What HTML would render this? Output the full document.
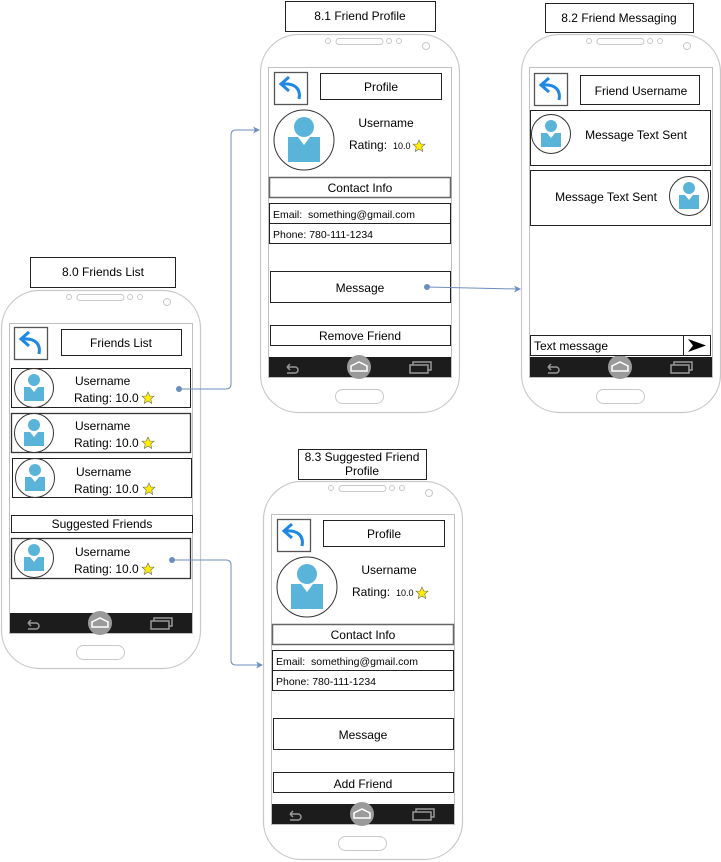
<!DOCTYPE html>
<html><head><meta charset="utf-8"><style>
html,body{margin:0;padding:0;background:#fff;}
svg{display:block;font-family:"Liberation Sans",Arial,sans-serif;}
</style></head><body>
<svg width="721" height="862" viewBox="0 0 721 862" xmlns="http://www.w3.org/2000/svg">
<defs>
<g id="phone">
  <rect x="0.5" y="0.5" width="199" height="378" rx="38" fill="#fff" stroke="#c8c8c8" stroke-width="1.2"/>
  <circle cx="68" cy="7" r="2.5" fill="none" stroke="#c8c8c8"/>
  <rect x="76" y="4.5" width="47" height="6" rx="3" fill="none" stroke="#c8c8c8"/>
  <circle cx="129" cy="7" r="2.5" fill="none" stroke="#c8c8c8"/>
  <circle cx="139" cy="7" r="2.5" fill="none" stroke="#c8c8c8"/>
  <circle cx="166" cy="12" r="3.5" fill="none" stroke="#c8c8c8"/>
  <rect x="8.5" y="33.5" width="183" height="310" fill="#fff" stroke="#c0c0c0"/>
  <rect x="9" y="323" width="182" height="20" fill="#1c1c1c"/>
  <path d="M27 333 h8 a3 3 0 0 1 0 6 h-8 M27 333 l3 -3 M27 333 l3 3" fill="none" stroke="#999" stroke-width="1.5"/>
  <circle cx="99" cy="333" r="12" fill="#9a9a9a"/>
  <path d="M91 337 v-5 l8 -4 l8 4 v5 z" fill="none" stroke="#fff" stroke-width="1.5"/>
  <rect x="150" y="331" width="18" height="8" fill="none" stroke="#999" stroke-width="1.5"/>
  <path d="M153 331 v-3 h18 v8 h-3" fill="none" stroke="#999" stroke-width="1.5"/>
  <rect x="75.5" y="355.5" width="48" height="14" rx="7" fill="#fff" stroke="#c8c8c8"/>
</g>
<g id="av">
  <circle cx="0" cy="0" r="19.5" fill="#fff" stroke="#333"/>
  <circle cx="0" cy="-8" r="6" fill="#5ab4da"/>
  <polygon points="-10,-1 -4,-1 0,4 4,-1 10,-1 10,13 -10,13" fill="#5ab4da"/>
</g>
<g id="avb">
  <circle cx="0" cy="0" r="30" fill="#fff" stroke="#333"/>
  <circle cx="0" cy="-13" r="10" fill="#5ab4da"/>
  <polygon points="-16,-3 -6,-3 0,5 6,-3 16,-3 16,22 -16,22" fill="#5ab4da"/>
</g>
<g id="back">
  <rect x="0.5" y="0.5" width="33" height="32" fill="#fff" stroke="#555" stroke-width="1.3"/>
  <path d="M25 27 C27 17 21 11 9 12" fill="none" stroke="#1e88e5" stroke-width="3"/>
  <path d="M15 5 L7 12 L15 19" fill="none" stroke="#1e88e5" stroke-width="3"/>
</g>
<polygon id="star" points="0,-6 1.8,-2 6,-1.8 2.8,1 3.7,5.5 0,3 -3.7,5.5 -2.8,1 -6,-1.8 -1.8,-2" fill="#ffee00" stroke="#666" stroke-width="0.6"/>
<g id="prof">
  <use href="#back" x="274" y="72"/>
  <rect x="320.5" y="73.5" width="121" height="26" fill="#fff" stroke="#222"/>
  <text x="381" y="91" font-size="12" text-anchor="middle">Profile</text>
  <use href="#avb" x="304" y="140"/>
  <text x="386" y="127" font-size="12" text-anchor="middle">Username</text>
  <text x="349" y="149" font-size="12">Rating:</text>
  <text x="393" y="149" font-size="9">10.0</text>
  <use href="#star" x="419" y="146"/>
  <rect x="269.5" y="177.5" width="181" height="20" fill="#fff" stroke="#666" stroke-width="1.5"/>
  <text x="360" y="192" font-size="12" text-anchor="middle">Contact Info</text>
  <rect x="269.5" y="203.5" width="181" height="20" fill="#fff" stroke="#222"/>
  <text x="273" y="218" font-size="10.5">Email:&#160; something@gmail.com</text>
  <rect x="269.5" y="223.5" width="181" height="20" fill="#fff" stroke="#222"/>
  <text x="273" y="238" font-size="10.5">Phone: 780-111-1234</text>
  <rect x="270.5" y="271.5" width="180" height="31" fill="#fff" stroke="#222"/>
  <text x="360" y="292" font-size="12" text-anchor="middle">Message</text>
  <rect x="270.5" y="325.5" width="180" height="20" fill="#fff" stroke="#222"/>
</g>
</defs>

<rect x="30.5" y="257.5" width="145" height="30" fill="#fff" stroke="#222"/>
<text x="103" y="276" font-size="12" text-anchor="middle">8.0 Friends List</text>
<rect x="285.5" y="1.5" width="150" height="30" fill="#fff" stroke="#222"/>
<text x="360" y="20" font-size="12" text-anchor="middle">8.1 Friend Profile</text>
<rect x="545.5" y="3.5" width="148" height="29" fill="#fff" stroke="#222"/>
<text x="619" y="22" font-size="12" text-anchor="middle">8.2 Friend Messaging</text>
<rect x="298.5" y="449.5" width="128" height="30" fill="#fff" stroke="#222"/>
<text x="362" y="461" font-size="12" text-anchor="middle">8.3 Suggested Friend</text>
<text x="362" y="475" font-size="12" text-anchor="middle">Profile</text>

<use href="#phone" x="1" y="290"/>
<use href="#back" x="14" y="327"/>
<rect x="61.5" y="329.5" width="120" height="26" fill="#fff" stroke="#222"/>
<text x="121" y="347" font-size="12" text-anchor="middle">Friends List</text>
<g font-size="12">
<rect x="11.5" y="368.5" width="179" height="39" fill="#fff" stroke="#222"/>
<use href="#av" x="34" y="388"/>
<text x="75" y="385">Username</text><text x="74" y="402">Rating: 10.0</text><use href="#star" x="148" y="398"/>
<rect x="11.5" y="413.5" width="179" height="39" fill="#fff" stroke="#333" stroke-width="1.3"/>
<use href="#av" x="34" y="433"/>
<text x="75" y="430">Username</text><text x="74" y="447">Rating: 10.0</text><use href="#star" x="148" y="443"/>
<rect x="12.5" y="458.5" width="179" height="39" fill="#fff" stroke="#222"/>
<use href="#av" x="35" y="478"/>
<text x="76" y="476">Username</text><text x="74" y="493">Rating: 10.0</text><use href="#star" x="149" y="489"/>
<rect x="11.5" y="515.5" width="181" height="17" fill="#fff" stroke="#222"/>
<text x="102" y="528" text-anchor="middle">Suggested Friends</text>
<rect x="11.5" y="538.5" width="179" height="40" fill="#fff" stroke="#333" stroke-width="1.3"/>
<use href="#av" x="34" y="558"/>
<text x="75" y="556">Username</text><text x="74" y="573">Rating: 10.0</text><use href="#star" x="148" y="569"/>
</g>

<use href="#phone" x="260" y="34"/>
<use href="#prof"/>
<text x="360" y="340" font-size="12" text-anchor="middle">Remove Friend</text>

<use href="#phone" x="263" y="481"/>
<use href="#prof" x="3" y="447"/>
<text x="363" y="788" font-size="12" text-anchor="middle">Add Friend</text>

<use href="#phone" x="521" y="34"/>
<use href="#back" x="534" y="73"/>
<rect x="580.5" y="75.5" width="119" height="29" fill="#fff" stroke="#222"/>
<text x="641" y="95" font-size="12" text-anchor="middle">Friend Username</text>
<rect x="530.5" y="110.5" width="180" height="55" fill="#fff" stroke="#222"/>
<use href="#av" x="551" y="134"/>
<text x="636" y="139" font-size="12" text-anchor="middle">Message Text Sent</text>
<rect x="530.5" y="170.5" width="180" height="55" fill="#fff" stroke="#222"/>
<use href="#av" x="689" y="196"/>
<text x="606" y="201" font-size="12" text-anchor="middle">Message Text Sent</text>
<rect x="530.5" y="335.5" width="153" height="20" fill="#fff" stroke="#222"/>
<text x="534" y="350" font-size="12">Text message</text>
<rect x="683.5" y="335.5" width="27" height="20" fill="#fff" stroke="#222"/>
<polygon points="688,339 706,345.5 688,352 693,345.5" fill="#000"/>

<g fill="none" stroke="#6c8ebf" stroke-width="1">
<path d="M179 389 H226 Q231 389 231 384 V135 Q231 130 236 130 H256"/>
<path d="M172 560 H226 Q231 560 231 565 V660 Q231 665 236 665 H259"/>
<path d="M427 287 L517 289"/>
</g>
<g fill="#6c8ebf">
<circle cx="179" cy="389" r="3"/>
<circle cx="172" cy="560" r="3"/>
<circle cx="427" cy="287" r="3"/>
<polygon points="260,130 253,126.5 255,130 253,133.5"/>
<polygon points="263,665 256,661.5 258,665 256,668.5"/>
<polygon points="521,289 514,285.5 516,289 514,292.5"/>
</g>
</svg>
</body></html>
